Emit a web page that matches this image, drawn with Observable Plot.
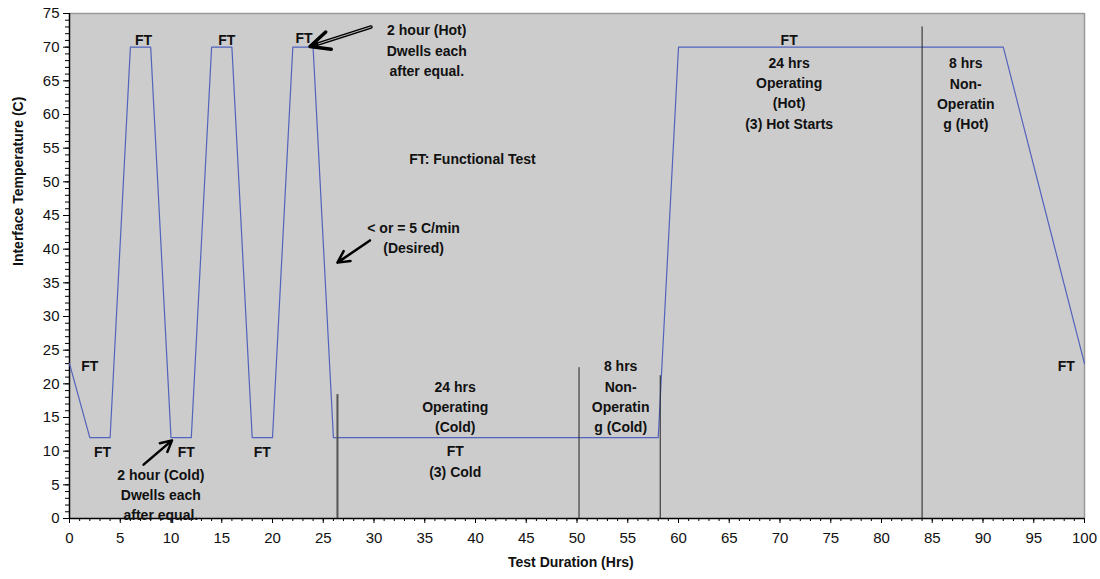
<!DOCTYPE html>
<html><head><meta charset="utf-8">
<script src="https://cdn.jsdelivr.net/npm/d3@7"></script>
<script src="https://cdn.jsdelivr.net/npm/@observablehq/plot@0.6"></script>
<style>
body{margin:0;background:#fff;}
#chart svg{font-family:"Liberation Sans",Arial,sans-serif;}
</style>
</head><body><div id="chart"></div><script>
// Temperature profile
const timeHrs = [0, 2, 4, 6, 8, 10, 12, 14, 16, 18, 20, 22, 24, 26, 58, 60, 92, 100];
const tempC   = [23, 12, 12, 70, 70, 12, 12, 70, 70, 12, 12, 70, 70, 12, 12, 70, 70, 23];

// Vertical phase markers
const markerX   = [26.4, 50.2, 58.2, 84];
const markerTop = [18.4, 22.4, 21.2, 73];

// Ticks
const xTicks = [0,5,10,15,20,25,30,35,40,45,50,55,60,65,70,75,80,85,90,95,100];
const yTicks = [0,5,10,15,20,25,30,35,40,45,50,55,60,65,70,75];

// Annotation labels
const labelText = [
  "FT", "FT", "FT", "FT",
  "FT", "FT", "FT",
  "2 hour (Hot)\nDwells each\nafter equal.",
  "FT: Functional Test",
  "< or = 5 C/min\n(Desired)",
  "2 hour (Cold)\nDwells each\nafter equal.",
  "24 hrs\nOperating\n(Cold)",
  "FT\n(3) Cold",
  "8 hrs\nNon-\nOperatin\ng (Cold)",
  "FT",
  "24 hrs\nOperating\n(Hot)\n(3) Hot Starts",
  "8 hrs\nNon-\nOperatin\ng (Hot)",
  "FT"
];
const labelX = [2.0, 7.3, 15.5, 23.1, 3.25, 11.5, 19.0, 35.2, 39.7, 33.9, 9.0, 38.0, 38.0, 54.3, 70.9, 70.9, 88.3, 98.2];
const labelY = [22.9, 71.3, 71.3, 71.6, 10.1, 10.1, 10.1, 69.7, 53.6, 41.9, 3.7, 16.8, 8.7, 18.3, 71.3, 63.4, 63.3, 22.9];

// Arrows: [x1, y1, x2, y2]
const arrowX1 = [29.7, 7.3, 29.6];
const arrowY1 = [73.0, 8.0, 41.3];
const arrowX2 = [23.7, 10.1, 26.4];
const arrowY2 = [70.1, 11.6, 38.0];

const profile = timeHrs.map((t, i) => ({t, c: tempC[i]}));
const markers = markerX.map((x, i) => ({x, top: markerTop[i], thick: i === 0}));
const labels = labelText.map((s, i) => ({s, x: labelX[i], y: labelY[i]}));
const arrows = arrowX1.map((x1, i) => ({x1, y1: arrowY1[i], x2: arrowX2[i], y2: arrowY2[i]}));

const chart = Plot.plot({
  width: 1100,
  height: 579,
  marginLeft: 69,
  marginRight: 16,
  marginTop: 13,
  marginBottom: 61,
  style: {fontFamily: '"Liberation Sans", Arial, sans-serif', background: "#fff"},
  x: {domain: [0, 100]},
  y: {domain: [0, 75]},
  marks: [
    Plot.frame({fill: "#cccccc", stroke: null}),
    Plot.ruleY([75], {stroke: "#999999", strokeWidth: 1.5}),
    Plot.ruleX([100], {stroke: "#999999", strokeWidth: 1.5}),
    // minor ticks
    Plot.axisY({ticks: d3.range(0, 76, 1), tickSize: 4, text: null, label: null, stroke: "#000"}),
    Plot.axisX({ticks: d3.range(0, 101, 1), tickSize: 3, text: null, label: null, stroke: "#000"}),
    // major ticks
    Plot.axisY({ticks: yTicks, tickSize: 6, tickPadding: 4, label: null, fontSize: 15, fill: "#111", stroke: "#000",
      style: {letterSpacing: "2.5px"}}),
    Plot.axisX({ticks: xTicks, tickSize: 5, tickPadding: 9, label: null, fontSize: 15, fill: "#111", stroke: "#000",
      style: {letterSpacing: "2.5px"}}),
    Plot.ruleX([0], {stroke: "#000", strokeWidth: 1.5}),
    Plot.ruleY([0], {stroke: "#000", strokeWidth: 1.5}),
    // profile line
    Plot.line(profile, {x: "t", y: "c", stroke: "#5262bd", strokeWidth: 1.2}),
    // phase markers
    Plot.ruleX(markers.filter(d => d.thick), {x: "x", y1: 0, y2: "top", stroke: "#555", strokeWidth: 2}),
    Plot.ruleX(markers.filter(d => !d.thick), {x: "x", y1: 0, y2: "top", stroke: "#222", strokeWidth: 1}),
    // arrows
    Plot.arrow(arrows.slice(0, 1), {x1: "x1", y1: "y1", x2: "x2", y2: "y2", stroke: "#000", strokeWidth: 3.5, headLength: 11, headAngle: 50}),
    Plot.arrow(arrows.slice(0, 1), {x1: "x1", y1: "y1", x2: "x2", y2: "y2", stroke: "#bbbbbb", strokeWidth: 1, headLength: 0, inset: 0, insetEnd: 9}),
    Plot.arrow(arrows.slice(1), {x1: "x1", y1: "y1", x2: "x2", y2: "y2", stroke: "#000", strokeWidth: 2.5, headLength: 10, headAngle: 55}),
    // labels
    Plot.text(labels, {x: "x", y: "y", text: "s", fontSize: 14, fontWeight: "bold", fill: "#111", lineHeight: 1.45,
      style: {letterSpacing: "0.2px"}}),
    // axis titles
    Plot.text(["Test Duration (Hrs)"], {x: 49.4, frameAnchor: "bottom", dy: 48, fontSize: 14, fontWeight: "bold", fill: "#111",
      style: {letterSpacing: "0.8px"}}),
    Plot.text(["Interface Temperature (C)"], {y: 37.5, frameAnchor: "left", dx: -51, rotate: -90, fontSize: 14, fontWeight: "bold", fill: "#111",
      style: {letterSpacing: "0.5px"}})
  ]
});
document.getElementById("chart").appendChild(chart);
</script></body></html>
